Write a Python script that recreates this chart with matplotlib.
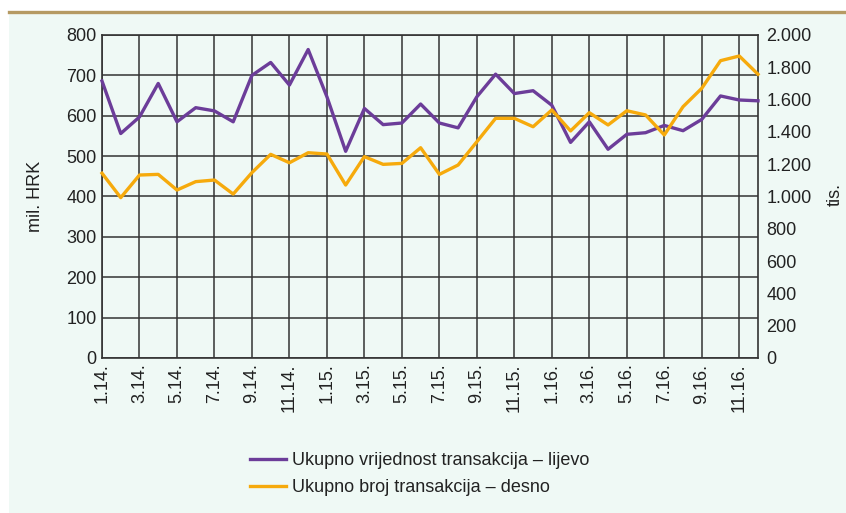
import matplotlib
matplotlib.use('Agg')
import matplotlib.pyplot as plt
from matplotlib.patches import Rectangle
from matplotlib.lines import Line2D
from matplotlib.ticker import FuncFormatter

plt.rcParams['font.family'] = ['Liberation Sans Narrow', 'Liberation Sans', 'DejaVu Sans']

# mjeseci 1.14. - 12.16.
months = [f'{m}.{y}.' for y in (14, 15, 16) for m in range(1, 13)]

# ukupna vrijednost transakcija, mil. HRK (lijevo)
vrijednost = [686, 556, 597, 680, 585, 620, 612, 585, 700, 732, 676, 764,
              647, 512, 618, 578, 582, 629, 582, 570, 647, 703, 655, 662,
              626, 534, 585, 517, 554, 558, 576, 563, 591, 649, 639, 637]

# ukupan broj transakcija, tis. (desno)
broj = [1144, 993, 1133, 1137, 1040, 1092, 1102, 1015, 1148, 1261, 1209, 1271,
        1263, 1071, 1247, 1199, 1205, 1302, 1137, 1195, 1339, 1484, 1484, 1432,
        1536, 1406, 1519, 1443, 1531, 1505, 1381, 1556, 1670, 1841, 1870, 1757]

left_ticks = list(range(0, 801, 100))
right_ticks = list(range(0, 2001, 200))

purple = '#6c3d99'
orange = '#f6aa0c'
bg = '#eff9f5'

fig = plt.figure(figsize=(8.46, 5.13), dpi=100)
fig.patch.set_facecolor('white')
fig.patches.append(Rectangle((9 / 846, 0), 1, 1 - 12 / 513, transform=fig.transFigure,
                             facecolor=bg, edgecolor='none', zorder=-10))
fig.add_artist(Line2D([9 / 846, 1], [1 - 12 / 513, 1 - 12 / 513], transform=fig.transFigure,
                      color='#b59a63', lw=2.4, zorder=-5))

ax = fig.add_axes([102 / 846, 155 / 513, 656 / 846, 323 / 513])
ax.set_facecolor(bg)
x = list(range(len(months)))

ax.plot(x, vrijednost, color=purple, lw=2.4, zorder=3, clip_on=False)
ax.set_ylim(0, 800)
ax.set_xlim(0, len(months) - 1)
ax.set_yticks(left_ticks)
ax.set_xticks(x[::2])
ax.set_xticklabels(months[::2], rotation=90, fontsize=13)
ax.tick_params(axis='both', length=0, labelsize=13, colors='#222222', pad=4)
ax.grid(True, color='#333333', lw=1.1)
for s in ax.spines.values():
    s.set_color('#333333')
    s.set_linewidth(1.2)
ax.set_ylabel('mil. HRK', fontsize=13, color='#222222', labelpad=16)

ax2 = ax.twinx()
ax2.plot(x, broj, color=orange, lw=2.4, zorder=3, clip_on=False)
ax2.set_ylim(0, 2000)
ax2.set_yticks(right_ticks)
ax2.yaxis.set_major_formatter(FuncFormatter(lambda v, p: f'{int(v):,}'.replace(',', '.')))
ax2.tick_params(axis='y', length=0, labelsize=13, colors='#222222', pad=6)
for s in ax2.spines.values():
    s.set_visible(False)
ax.set_zorder(ax2.get_zorder() - 1)
ax.patch.set_visible(True)
ax2.patch.set_visible(False)

fig.text(835 / 846, 1 - 195 / 513, 'tis.', rotation=90, fontsize=13, color='#222222',
         ha='center', va='center')

handles = [Line2D([], [], color=purple, lw=2.4), Line2D([], [], color=orange, lw=2.4)]
fig.legend(handles, ['Ukupno vrijednost transakcija – lijevo', 'Ukupno broj transakcija – desno'],
           loc='upper left', bbox_to_anchor=(234 / 846, 1 - 436 / 513), frameon=False,
           fontsize=13, handlelength=2.0, handletextpad=0.3, labelspacing=0.55,
           labelcolor='#222222')

fig.savefig('out.png', dpi=100, facecolor='white')
